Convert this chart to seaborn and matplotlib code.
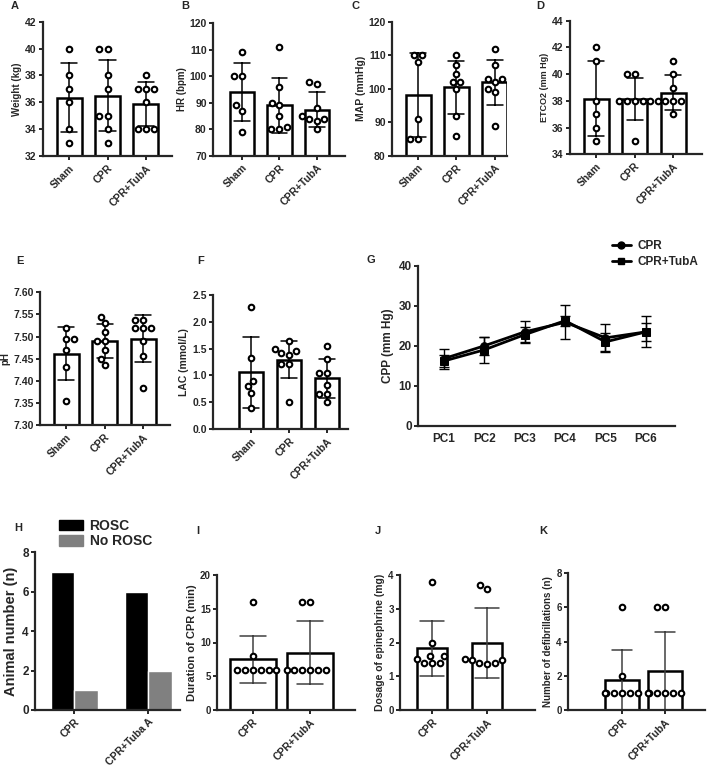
import numpy as np
import pandas as pd
import matplotlib
matplotlib.use('Agg')
import matplotlib.pyplot as plt
import seaborn as sns
from matplotlib.lines import Line2D
from matplotlib.patches import Patch

# ---- data ----
groups3 = ['Sham', 'CPR', 'CPR+TubA']
groups2 = ['CPR', 'CPR+TubA']

weight_sham = [40, 38, 37, 36, 34, 33]
weight_cpr = [40, 40, 38, 37, 35, 35, 34, 33]
weight_tuba = [38, 37, 37, 37, 36, 34, 34, 34]

hr_sham = [109, 100, 100, 89, 87, 79]
hr_cpr = [111, 96, 90, 89, 85, 81, 80, 80]
hr_tuba = [98, 97, 88, 85, 84, 84, 83, 80]

map_sham = [110, 110, 108, 91, 85, 85]
map_cpr = [110, 107, 104.5, 102, 102, 100, 92, 86]
map_tuba = [112, 107, 103, 103, 102, 100, 99, 89]

etco2_sham = [42, 41, 38, 37, 36, 35]
etco2_cpr = [40, 40, 38, 38, 38, 38, 38, 35]
etco2_tuba = [41, 40, 39, 38, 38, 38, 38, 37]

ph_sham = [7.52, 7.495, 7.495, 7.47, 7.43, 7.355]
ph_cpr = [7.545, 7.53, 7.51, 7.49, 7.49, 7.47, 7.45, 7.435]
ph_tuba = [7.538, 7.538, 7.52, 7.52, 7.52, 7.49, 7.455, 7.383]

lac_sham = [2.27, 1.32, 0.9, 0.8, 0.67, 0.4]
lac_cpr = [1.65, 1.5, 1.45, 1.42, 1.38, 1.22, 1.22, 0.5]
lac_tuba = [1.55, 1.3, 1.05, 1.05, 0.82, 0.65, 0.65, 0.5]

pc_labels = ['PC1', 'PC2', 'PC3', 'PC4', 'PC5', 'PC6']
cpp_cpr_mean = [16.8, 20.0, 23.5, 25.9, 22.0, 23.5]
cpp_cpr_sd = [2.5, 2.3, 2.8, 4.3, 3.5, 3.9]
cpp_tuba_mean = [16.2, 19.0, 22.8, 26.3, 21.0, 23.5]
cpp_tuba_sd = [1.6, 3.2, 1.8, 1.3, 2.2, 2.2]

rosc_groups = ['CPR', 'CPR+Tuba A']
rosc_yes = [7, 6]
rosc_no = [1, 2]

dur_cpr = [16, 8, 6, 6, 6, 6, 6, 6]
dur_tuba = [16, 16, 6, 6, 6, 6, 6, 6]
epi_cpr = [3.8, 1.98, 1.6, 1.6, 1.5, 1.38, 1.4, 1.4]
epi_tuba = [3.7, 3.6, 1.52, 1.48, 1.48, 1.38, 1.38, 1.36]
defib_cpr = [6, 2, 1, 1, 1, 1, 1, 1]
defib_tuba = [6, 6, 1, 1, 1, 1, 1, 1]

# ---- style ----
sns.set_style('ticks')
plt.rcParams['font.family'] = ['Liberation Sans', 'DejaVu Sans']
plt.rcParams['font.weight'] = 'bold'
plt.rcParams['axes.labelweight'] = 'bold'
plt.rcParams['axes.linewidth'] = 1.6
plt.rcParams['xtick.major.width'] = 1.4
plt.rcParams['ytick.major.width'] = 1.4
plt.rcParams['xtick.major.size'] = 3
plt.rcParams['ytick.major.size'] = 3
plt.rcParams['xtick.major.pad'] = 2
plt.rcParams['ytick.major.pad'] = 1.5

W, H = 709, 769
fig = plt.figure(figsize=(W / 100, H / 100), dpi=100)


def rect(x0, x1, ytop, ybot):
    return [x0 / W, 1 - ybot / H, (x1 - x0) / W, (ybot - ytop) / H]


def bar_panel(r, groups, series, ylabel, ylim, yticks, xlim, width=0.65,
              fmt=None, ylsize=7, tsize=7.5, errcolor='black', capsize=0.42):
    ax = fig.add_axes(r)
    df = pd.DataFrame({'group': np.repeat(groups, [len(s) for s in series]),
                       'value': np.concatenate(series)})
    sns.barplot(data=df, x='group', y='value', order=groups, errorbar='sd',
                width=width, color='white', edgecolor='black', linewidth=1.8,
                capsize=capsize, err_kws={'color': errcolor, 'linewidth': 1.1},
                ax=ax)
    sns.swarmplot(data=df, x='group', y='value', order=groups, size=4.0,
                  color='white', edgecolor='black', linewidth=1.5, ax=ax,
                  warn_thresh=1)
    for c in ax.collections:
        c.set_zorder(4)
    ax.set_ylim(*ylim)
    ax.set_yticks(yticks)
    if fmt:
        ax.set_yticklabels([fmt.format(v) for v in yticks])
    ax.set_xlim(*xlim)
    ax.set_xlabel('')
    ax.set_ylabel(ylabel, fontsize=ylsize, labelpad=2)
    ax.tick_params(axis='y', labelsize=tsize)
    ax.tick_params(axis='x', labelsize=7.5)
    plt.setp(ax.get_xticklabels(), rotation=45, ha='right',
             rotation_mode='anchor')
    sns.despine(ax=ax)
    return ax


# row 1
bar_panel(rect(43, 172, 21.7, 156), groups3, [weight_sham, weight_cpr, weight_tuba],
          'Weight (kg)', (32, 42), np.arange(32, 43, 2), (-0.68, 2.68))
bar_panel(rect(213, 345, 23.3, 155.7), groups3, [hr_sham, hr_cpr, hr_tuba],
          'HR (bpm)', (70, 120), np.arange(70, 121, 10), (-0.77, 2.75))
bar_panel(rect(392, 507, 21.7, 155.7), groups3, [map_sham, map_cpr, map_tuba],
          'MAP (mmHg)', (80, 120), np.arange(80, 121, 10), (-0.68, 2.32),
          ylsize=7.5)
bar_panel(rect(570, 702, 20.7, 154.3), groups3, [etco2_sham, etco2_cpr, etco2_tuba],
          'ETCO2 (mm Hg)', (34, 44), np.arange(34, 45, 2), (-0.68, 2.75),
          ylsize=6.5)

# row 2
bar_panel(rect(40, 170, 292.3, 425), groups3, [ph_sham, ph_cpr, ph_tuba],
          'pH', (7.30, 7.60), np.round(np.arange(7.30, 7.601, 0.05), 2),
          (-0.68, 2.7), fmt='{:.2f}')
bar_panel(rect(213, 348, 295, 429), groups3, [lac_sham, lac_cpr, lac_tuba],
          'LAC (mmol/L)', (0, 2.5), np.arange(0, 2.51, 0.5), (-1.0, 2.55),
          fmt='{:.1f}', ylsize=7.5)

# panel G
axg = fig.add_axes(rect(418, 675, 266, 425.7))
xpos = np.arange(len(pc_labels))
for mean, sd, mk, lab in [(cpp_cpr_mean, cpp_cpr_sd, 'o', 'CPR'),
                          (cpp_tuba_mean, cpp_tuba_sd, 's', 'CPR+TubA')]:
    axg.errorbar(xpos, mean, yerr=sd, fmt='none', ecolor='black',
                 elinewidth=1.0, capsize=3.5, capthick=1.0, zorder=2)
    sns.lineplot(x=xpos, y=mean, marker=mk, color='black', linewidth=2.0,
                 markersize=5.5, markeredgecolor='black', ax=axg, label=lab,
                 legend=False, zorder=3)
axg.set_xlim(-0.64, 5.72)
axg.set_ylim(0, 40)
axg.set_yticks([0, 10, 20, 30, 40])
axg.set_xticks(xpos)
axg.set_xticklabels(pc_labels)
axg.tick_params(labelsize=8.5)
axg.tick_params(axis='x', length=0, pad=5)
axg.set_ylabel('CPP (mm Hg)', fontsize=8.5, labelpad=3)
sns.despine(ax=axg)
g_handles = [Line2D([], [], color='black', lw=2, marker='o', markersize=5),
             Line2D([], [], color='black', lw=2, marker='s', markersize=5)]
fig.legend(g_handles, ['CPR', 'CPR+TubA'], loc='upper left',
           bbox_to_anchor=(612 / W, 1 - 240 / H), frameon=False,
           fontsize=8.5, handlelength=1.6, handletextpad=0.6,
           labelspacing=0.35, borderpad=0, borderaxespad=0)

# panel H
axh = fig.add_axes(rect(35, 180, 552.3, 710))
hdf = pd.DataFrame({'group': rosc_groups * 2,
                    'n': rosc_yes + rosc_no,
                    'outcome': ['ROSC'] * 2 + ['No ROSC'] * 2})
sns.barplot(data=hdf, x='group', y='n', hue='outcome', order=rosc_groups,
            hue_order=['ROSC', 'No ROSC'], palette=['black', '#808080'],
            width=0.64, ax=axh, legend=False, saturation=1)
axh.set_ylim(0, 8)
axh.set_yticks([0, 2, 4, 6, 8])
axh.set_xlim(-0.53, 1.43)
axh.set_xlabel('')
axh.set_ylabel('Animal number (n)', fontsize=10.5, labelpad=3)
axh.tick_params(axis='y', labelsize=8.5)
axh.tick_params(axis='x', labelsize=7.5)
plt.setp(axh.get_xticklabels(), rotation=45, ha='right', rotation_mode='anchor')
sns.despine(ax=axh)
h_handles = [Patch(color='black'), Patch(color='#808080')]
fig.legend(h_handles, ['ROSC', 'No ROSC'], loc='upper left',
           bbox_to_anchor=(59 / W, 1 - 519 / H), frameon=False, fontsize=10,
           handlelength=1.7, handleheight=0.75, handletextpad=0.5,
           labelspacing=0.1, borderpad=0, borderaxespad=0)

# row 3 bars
bar_panel(rect(217, 355, 575, 710), groups2, [dur_cpr, dur_tuba],
          'Duration of CPR (min)', (0, 20), [0, 5, 10, 15, 20], (-0.63, 1.79),
          width=0.82, ylsize=8, tsize=7, errcolor='0.25', capsize=0.45)
bar_panel(rect(400, 535, 575, 710), groups2, [epi_cpr, epi_tuba],
          'Dosage of epinephrine (mg)', (0, 4), [0, 1, 2, 3, 4], (-0.58, 1.87),
          width=0.53, ylsize=7.5, tsize=7, errcolor='0.25', capsize=0.45)
bar_panel(rect(568, 705, 573, 710), groups2, [defib_cpr, defib_tuba],
          'Number of defibrillations (n)', (0, 8), [0, 2, 4, 6, 8], (-1.26, 1.93),
          width=0.8, ylsize=7, tsize=7, errcolor='0.25', capsize=0.45)

# panel letters
letters = [('A', 15, 6), ('B', 185, 6), ('C', 355, 6), ('D', 540, 6),
           ('E', 20, 261), ('F', 201, 261), ('G', 371, 260),
           ('H', 18, 528), ('I', 198, 531), ('J', 378, 531), ('K', 543, 531)]
for t, x, y in letters:
    fig.text(x / W, 1 - y / H, t, fontsize=8, fontweight='bold',
             ha='center', va='center')

fig.savefig('out.png', dpi=100)
